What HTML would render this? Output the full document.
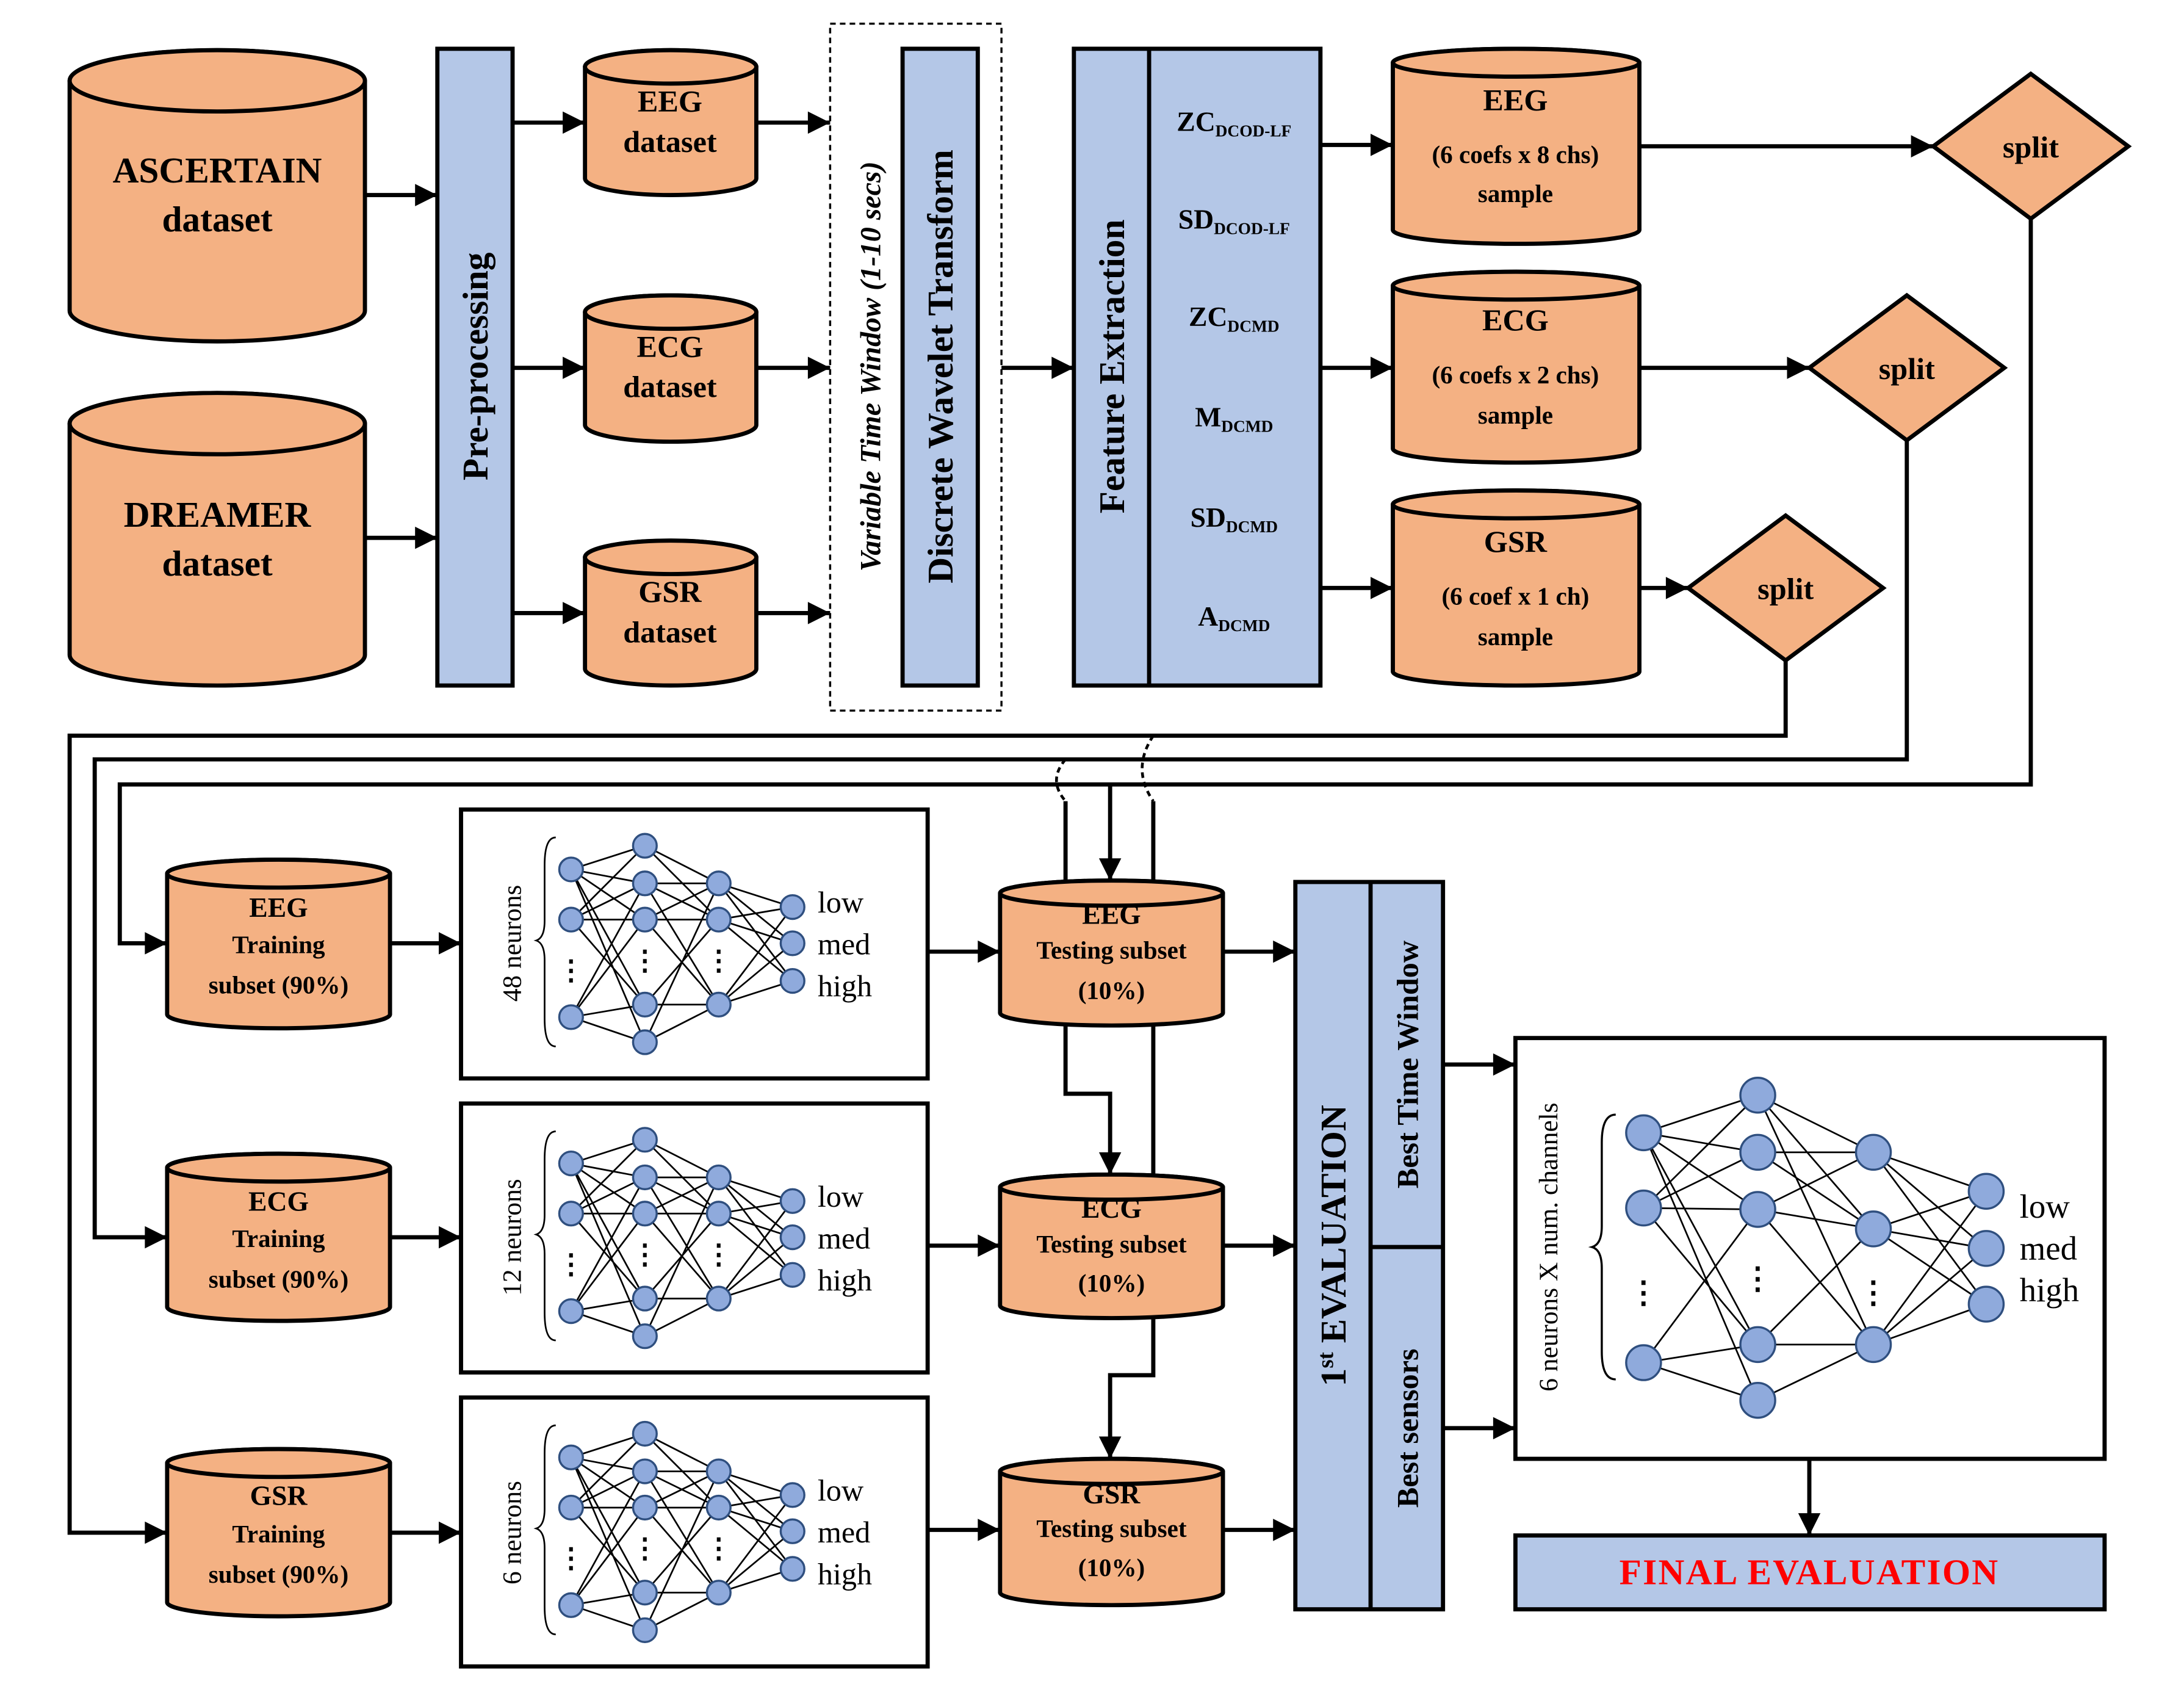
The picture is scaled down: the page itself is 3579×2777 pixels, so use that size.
<!DOCTYPE html>
<html><head><meta charset="utf-8"><style>html,body{margin:0;padding:0;background:#fff}svg{display:block}</style></head><body>
<svg xmlns="http://www.w3.org/2000/svg" xmlns:xlink="http://www.w3.org/1999/xlink" width="3579" height="2777" viewBox="0 0 1568 1216.5" preserveAspectRatio="none" font-family="'Liberation Serif',serif" font-weight="bold">
<defs>
<marker id="a" viewBox="0 0 10 10" refX="10" refY="5" markerWidth="18" markerHeight="16" markerUnits="userSpaceOnUse" orient="auto"><path d="M0,0L10,5L0,10z" fill="#000"/></marker>
<g id="nn">
<path fill="none" stroke="#000" stroke-width="1.2" d="M79 43L132 26M79 43L132 53M79 43L132 79M79 43L132 140M79 79L132 26M79 79L132 53M79 79L132 79M79 79L132 140M79 149L132 79M79 149L132 140M79 149L132 167M79 43L132 167M79 149L132 53
M132 26L185 53M132 26L185 79M132 53L185 53M132 53L185 79M132 53L185 140M132 79L185 53M132 79L185 79M132 79L185 140M132 140L185 79M132 140L185 140M132 167L185 140M132 167L185 53
M185 53L238 70M185 53L238 96M185 53L238 123M185 79L238 70M185 79L238 96M185 79L238 123M185 140L238 70M185 140L238 96M185 140L238 123"/>
<g fill="#8FAADC" stroke="#2F4F7F" stroke-width="1.5">
<circle cx="79" cy="43" r="8.5"/><circle cx="79" cy="79" r="8.5"/><circle cx="79" cy="149" r="8.5"/>
<circle cx="132" cy="26" r="8.5"/><circle cx="132" cy="53" r="8.5"/><circle cx="132" cy="79" r="8.5"/><circle cx="132" cy="140" r="8.5"/><circle cx="132" cy="167" r="8.5"/>
<circle cx="185" cy="53" r="8.5"/><circle cx="185" cy="79" r="8.5"/><circle cx="185" cy="140" r="8.5"/>
<circle cx="238" cy="70" r="8.5"/><circle cx="238" cy="96" r="8.5"/><circle cx="238" cy="123" r="8.5"/>
</g>
<g font-size="20" text-anchor="middle"><text x="79" y="122">⋮</text><text x="132" y="115">⋮</text><text x="185" y="115">⋮</text></g>
<path d="M68 20 Q60 20 60 40 L60 80 Q60 92 54 94 Q60 96 60 108 L60 150 Q60 170 68 170" fill="none" stroke="#000" stroke-width="1.2"/>
<g font-size="22" font-weight="normal" fill="#000"><text x="256" y="74">low</text><text x="256" y="104">med</text><text x="256" y="134">high</text></g>
</g>
</defs>

<g stroke="#000" stroke-width="3" fill="#F4B183">
<path d="M50 58 A106 22 0 0 1 262 58 V223 A106 22 0 0 1 50 223 Z"/><ellipse cx="156" cy="58" rx="106" ry="22"/>
<path d="M50 304 A106 22 0 0 1 262 304 V470 A106 22 0 0 1 50 470 Z"/><ellipse cx="156" cy="304" rx="106" ry="22"/>
<path d="M420 48 A61.5 12 0 0 1 543 48 V128 A61.5 12 0 0 1 420 128 Z"/><ellipse cx="481.5" cy="48" rx="61.5" ry="12"/>
<path d="M420 224 A61.5 12 0 0 1 543 224 V305 A61.5 12 0 0 1 420 305 Z"/><ellipse cx="481.5" cy="224" rx="61.5" ry="12"/>
<path d="M420 400 A61.5 12 0 0 1 543 400 V480 A61.5 12 0 0 1 420 480 Z"/><ellipse cx="481.5" cy="400" rx="61.5" ry="12"/>
<path d="M1000 45 A88.5 10 0 0 1 1177 45 V165 A88.5 10 0 0 1 1000 165 Z"/><ellipse cx="1088.5" cy="45" rx="88.5" ry="10"/>
<path d="M1000 205 A88.5 10 0 0 1 1177 205 V322 A88.5 10 0 0 1 1000 322 Z"/><ellipse cx="1088.5" cy="205" rx="88.5" ry="10"/>
<path d="M1000 362 A88.5 10 0 0 1 1177 362 V482 A88.5 10 0 0 1 1000 482 Z"/><ellipse cx="1088.5" cy="362" rx="88.5" ry="10"/>
<path d="M120 627 A80 10 0 0 1 280 627 V728 A80 10 0 0 1 120 728 Z"/><ellipse cx="200" cy="627" rx="80" ry="10"/>
<path d="M120 838 A80 10 0 0 1 280 838 V938 A80 10 0 0 1 120 938 Z"/><ellipse cx="200" cy="838" rx="80" ry="10"/>
<path d="M120 1050 A80 10 0 0 1 280 1050 V1150 A80 10 0 0 1 120 1150 Z"/><ellipse cx="200" cy="1050" rx="80" ry="10"/>
<path d="M718 641 A80 9 0 0 1 878 641 V727 A80 9 0 0 1 718 727 Z"/><ellipse cx="798" cy="641" rx="80" ry="9"/>
<path d="M718 852 A80 9 0 0 1 878 852 V937 A80 9 0 0 1 718 937 Z"/><ellipse cx="798" cy="852" rx="80" ry="9"/>
<path d="M718 1056 A80 9 0 0 1 878 1056 V1143 A80 9 0 0 1 718 1143 Z"/><ellipse cx="798" cy="1056" rx="80" ry="9"/>
<polygon points="1388,105 1458,53 1528,105 1458,157"/>
<polygon points="1299,264 1369,212 1439,264 1369,316"/>
<polygon points="1212,422 1282,370 1352,422 1282,474"/>
</g>

<g stroke="#000" stroke-width="3" fill="#B4C7E7">
<rect x="314" y="35" width="54" height="457"/>
<rect x="648" y="35" width="54" height="457"/>
<rect x="771" y="35" width="177" height="457"/><line x1="825" y1="35" x2="825" y2="492"/>
<rect x="930" y="633" width="106" height="522"/><line x1="984" y1="633" x2="984" y2="1155"/><line x1="984" y1="895" x2="1036" y2="895"/>
<rect x="1088" y="1102" width="423" height="53"/>
</g>
<rect x="596" y="17" width="123" height="493" fill="none" stroke="#000" stroke-width="1.5" stroke-dasharray="4,3"/>
<g fill="#fff" stroke="#000" stroke-width="3">
<rect x="331" y="581" width="335" height="193"/>
<rect x="331" y="792" width="335" height="193"/>
<rect x="331" y="1003" width="335" height="193"/>
<rect x="1088" y="745" width="423" height="302"/>
</g>
<use xlink:href="#nn" x="331" y="581"/>
<use xlink:href="#nn" x="331" y="792"/>
<use xlink:href="#nn" x="331" y="1003"/>

<g>
<path fill="none" stroke="#000" stroke-width="1.2" d="M1180 813L1262 786M1180 813L1262 827M1180 813L1262 868M1180 813L1262 965M1180 867L1262 786M1180 867L1262 827M1180 867L1262 868M1180 867L1262 965M1180 978L1262 868M1180 978L1262 965M1180 978L1262 1005M1180 813L1262 1005
M1262 786L1345 827M1262 786L1345 882M1262 827L1345 827M1262 827L1345 882M1262 868L1345 827M1262 868L1345 882M1262 868L1345 965M1262 965L1345 965M1262 965L1345 882M1262 1005L1345 965M1262 786L1345 965
M1345 827L1426 855M1345 827L1426 896M1345 827L1426 936M1345 882L1426 855M1345 882L1426 896M1345 882L1426 936M1345 965L1426 855M1345 965L1426 896M1345 965L1426 936"/>
<g fill="#8FAADC" stroke="#2F4F7F" stroke-width="1.5">
<circle cx="1180" cy="813" r="12.5"/><circle cx="1180" cy="867" r="12.5"/><circle cx="1180" cy="978" r="12.5"/>
<circle cx="1262" cy="786" r="12.5"/><circle cx="1262" cy="827" r="12.5"/><circle cx="1262" cy="868" r="12.5"/><circle cx="1262" cy="965" r="12.5"/><circle cx="1262" cy="1005" r="12.5"/>
<circle cx="1345" cy="827" r="12.5"/><circle cx="1345" cy="882" r="12.5"/><circle cx="1345" cy="965" r="12.5"/>
<circle cx="1426" cy="855" r="12.5"/><circle cx="1426" cy="896" r="12.5"/><circle cx="1426" cy="936" r="12.5"/>
</g>
<g font-size="22" text-anchor="middle"><text x="1180" y="935">⋮</text><text x="1262" y="925">⋮</text><text x="1345" y="935">⋮</text></g>
<path d="M1160 800 Q1150 800 1150 820 L1150 880 Q1150 893 1143 895 Q1150 897 1150 910 L1150 970 Q1150 990 1160 990" fill="none" stroke="#000" stroke-width="1.5"/>
<g font-size="24" font-weight="normal"><text x="1450" y="874">low</text><text x="1450" y="904">med</text><text x="1450" y="934">high</text></g>
</g>

<g stroke="#000" stroke-width="3" fill="none" marker-end="url(#a)">
<line x1="262" y1="140" x2="314" y2="140"/><line x1="262" y1="386" x2="314" y2="386"/>
<line x1="368" y1="88" x2="420" y2="88"/><line x1="368" y1="264" x2="420" y2="264"/><line x1="368" y1="440" x2="420" y2="440"/>
<line x1="543" y1="88" x2="596" y2="88"/><line x1="543" y1="264" x2="596" y2="264"/><line x1="543" y1="440" x2="596" y2="440"/>
<line x1="719" y1="264" x2="771" y2="264"/>
<line x1="948" y1="104" x2="1000" y2="104"/><line x1="948" y1="264" x2="1000" y2="264"/><line x1="948" y1="422" x2="1000" y2="422"/>
<line x1="1177" y1="105" x2="1388" y2="105"/><line x1="1177" y1="264" x2="1299" y2="264"/><line x1="1177" y1="422" x2="1212" y2="422"/>
<polyline points="1458,157 1458,563 86,563 86,677 120,677"/>
<polyline points="1369,316 1369,545 68,545 68,888 120,888"/>
<polyline points="1282,474 1282,528 50,528 50,1100 120,1100"/>
<line x1="280" y1="677" x2="331" y2="677"/><line x1="280" y1="888" x2="331" y2="888"/><line x1="280" y1="1100" x2="331" y2="1100"/>
<line x1="666" y1="683" x2="718" y2="683"/><line x1="666" y1="894" x2="718" y2="894"/><line x1="666" y1="1098" x2="718" y2="1098"/>
<line x1="878" y1="683" x2="930" y2="683"/><line x1="878" y1="894" x2="930" y2="894"/><line x1="878" y1="1098" x2="930" y2="1098"/>
<line x1="1036" y1="764" x2="1088" y2="764"/><line x1="1036" y1="1025" x2="1088" y2="1025"/>
<line x1="797" y1="563" x2="797" y2="632"/>
<polyline points="765,736 765,785 797,785 797,843"/>
<polyline points="828,946 828,987 797,987 797,1047"/>
<line x1="1299" y1="1047" x2="1299" y2="1102"/>
</g>
<g stroke="#000" stroke-width="3" fill="none">
<line x1="765" y1="575" x2="765" y2="632"/><line x1="828" y1="575" x2="828" y2="632"/>
<line x1="828" y1="736" x2="828" y2="843"/>
</g>
<g stroke="#000" stroke-width="2" fill="none" stroke-dasharray="4,3">
<path d="M765 545 Q752 560 765 575"/><path d="M828 528 Q812 552 828 575"/>
</g>

<g font-size="26" text-anchor="middle" fill="#000">
<text x="156" y="131">ASCERTAIN</text><text x="156" y="166">dataset</text>
<text x="156" y="378">DREAMER</text><text x="156" y="413">dataset</text>
<text transform="translate(350,263) rotate(-90)">Pre-processing</text>
<text transform="translate(684,263) rotate(-90)">Discrete Wavelet Transform</text>
<text transform="translate(807,263) rotate(-90)">Feature Extraction</text>
<text transform="translate(966,894) rotate(-90)">1<tspan font-size="16" dy="-9">st</tspan><tspan dy="9"> EVALUATION</tspan></text>
</g>
<text transform="translate(632,263) rotate(-90)" font-size="21" font-style="italic" text-anchor="middle">Variable Time Window (1-10 secs)</text>
<g font-size="22" text-anchor="middle">
<text x="481" y="80">EEG</text><text x="481" y="109">dataset</text>
<text x="481" y="256">ECG</text><text x="481" y="285">dataset</text>
<text x="481" y="432">GSR</text><text x="481" y="461">dataset</text>
<text transform="translate(1018,764) rotate(-90)">Best Time Window</text>
<text transform="translate(1018,1025) rotate(-90)">Best sensors</text>
<text x="1458" y="113">split</text><text x="1369" y="272">split</text><text x="1282" y="430">split</text>
<text x="1088" y="79">EEG</text><text x="1088" y="237">ECG</text><text x="1088" y="396">GSR</text>
</g>
<g font-size="18" text-anchor="middle">
<text x="1088" y="117">(6 coefs x 8 chs)</text><text x="1088" y="145">sample</text>
<text x="1088" y="275">(6 coefs x 2 chs)</text><text x="1088" y="304">sample</text>
<text x="1088" y="434">(6 coef x 1 ch)</text><text x="1088" y="463">sample</text>
<text x="200" y="684">Training</text><text x="200" y="713">subset (90%)</text>
<text x="200" y="895">Training</text><text x="200" y="924">subset (90%)</text>
<text x="200" y="1107">Training</text><text x="200" y="1136">subset (90%)</text>
<text x="798" y="688">Testing subset</text><text x="798" y="717">(10%)</text>
<text x="798" y="899">Testing subset</text><text x="798" y="927">(10%)</text>
<text x="798" y="1103">Testing subset</text><text x="798" y="1131">(10%)</text>
</g>
<g font-size="20" text-anchor="middle">
<text x="200" y="658">EEG</text><text x="200" y="869">ECG</text><text x="200" y="1080">GSR</text>
<text x="798" y="663">EEG</text><text x="798" y="874">ECG</text><text x="798" y="1079">GSR</text>
</g>
<g font-size="20" text-anchor="middle">
<text x="886" y="94">ZC<tspan font-size="12" dy="4">DCOD-LF</tspan></text>
<text x="886" y="164">SD<tspan font-size="12" dy="4">DCOD-LF</tspan></text>
<text x="886" y="234">ZC<tspan font-size="12" dy="4">DCMD</tspan></text>
<text x="886" y="306">M<tspan font-size="12" dy="4">DCMD</tspan></text>
<text x="886" y="378">SD<tspan font-size="12" dy="4">DCMD</tspan></text>
<text x="886" y="449">A<tspan font-size="12" dy="4">DCMD</tspan></text>
</g>
<g font-size="19" font-weight="normal" text-anchor="middle">
<text transform="translate(374,677) rotate(-90)">48 neurons</text>
<text transform="translate(374,888) rotate(-90)">12 neurons</text>
<text transform="translate(374,1100) rotate(-90)">6 neurons</text>
<text transform="translate(1118,895) rotate(-90)">6 neurons X num. channels</text>
</g>
<text x="1299" y="1137" font-size="26" fill="#FF0000" text-anchor="middle" letter-spacing="1">FINAL EVALUATION</text>
</svg>
</body></html>
